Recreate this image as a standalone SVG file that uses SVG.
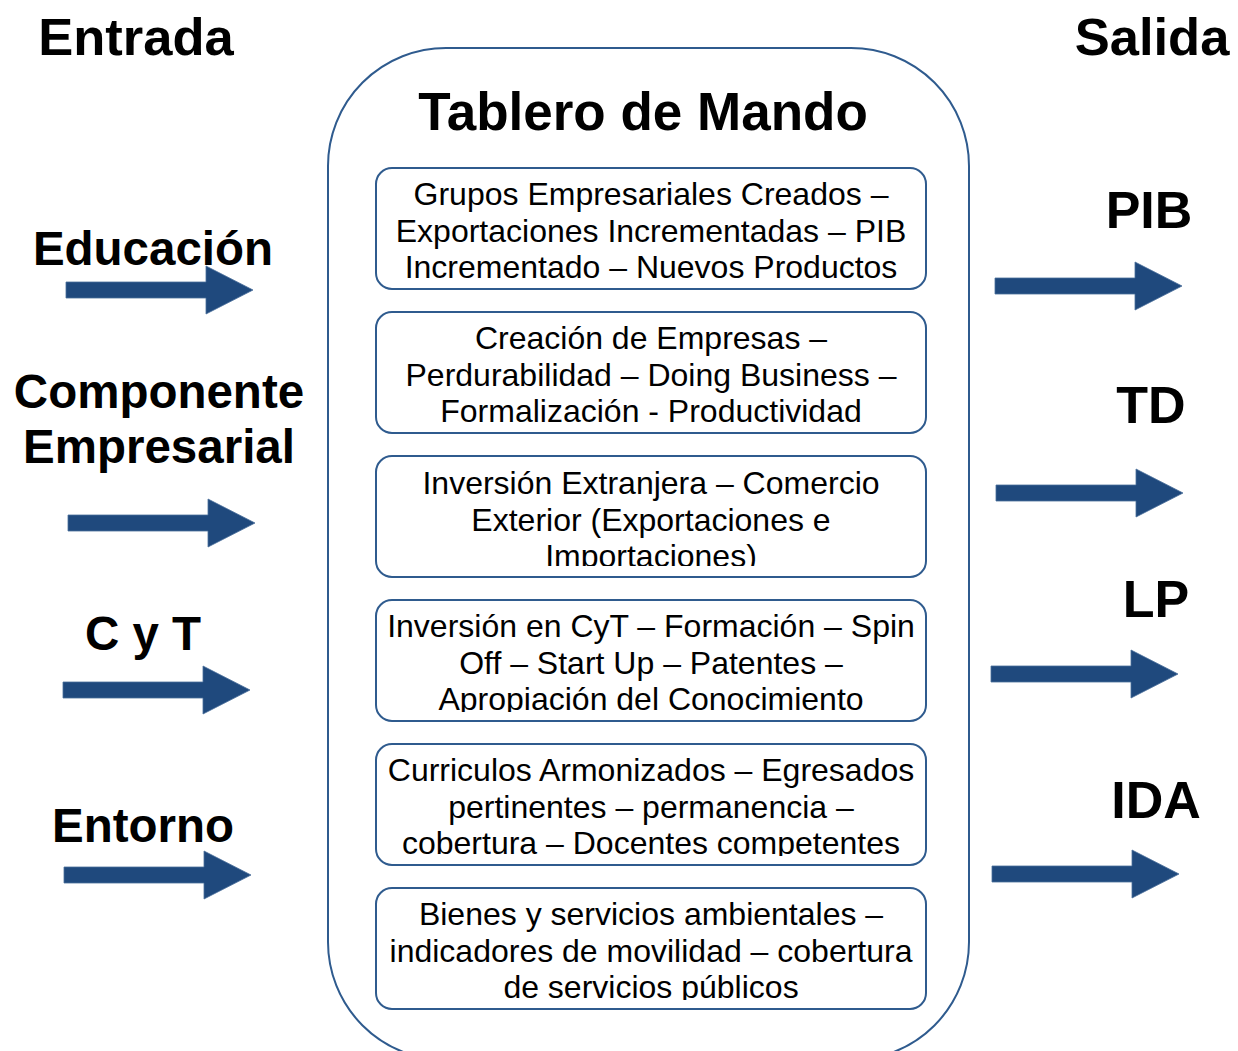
<svg xmlns="http://www.w3.org/2000/svg" width="1238" height="1051" viewBox="0 0 1238 1051">
<style>
.h{font-family:"Liberation Sans",Arial,sans-serif;font-weight:bold;fill:#000}
.t{font-family:"Liberation Sans",Arial,sans-serif;font-size:32px;fill:#000;text-anchor:middle}
.box{fill:#fff;stroke:#2F5B8E;stroke-width:2}
.arr{fill:#1F497D;stroke:#4A6E9A;stroke-width:0.8}
</style>
<defs>
<path id="arrow" d="M0,-8 H140 V-24 L187,0 L140,24 V8 H0 Z"/>
<clipPath id="c1"><rect x="376" y="168" width="550" height="112"/></clipPath>
<clipPath id="c2"><rect x="376" y="312" width="550" height="112"/></clipPath>
<clipPath id="c3"><rect x="376" y="456" width="550" height="110"/></clipPath>
<clipPath id="c4"><rect x="376" y="600" width="550" height="112"/></clipPath>
<clipPath id="c5"><rect x="376" y="744" width="550" height="112"/></clipPath>
<clipPath id="c6"><rect x="376" y="888" width="550" height="112"/></clipPath>
</defs>
<rect width="1238" height="1051" fill="#fff"/>

<text class="h" x="136" y="55" font-size="52.5" text-anchor="middle">Entrada</text>
<text class="h" x="1152" y="55" font-size="52.5" text-anchor="middle">Salida</text>

<g id="tablero">
<rect x="328" y="48" width="641" height="1012" rx="118" ry="118" fill="#fff" stroke="#2F5B8E" stroke-width="2"/>
<text class="h" x="643" y="130" font-size="53" text-anchor="middle">Tablero de Mando</text>
</g>

<g id="box1">
<rect class="box" x="376" y="168" width="550" height="121" rx="16"/>
<g clip-path="url(#c1)">
<text class="t" x="651" y="205">Grupos Empresariales Creados –</text>
<text class="t" x="651" y="242">Exportaciones Incrementadas – PIB</text>
<text class="t" x="651" y="278">Incrementado – Nuevos Productos</text>
</g>
</g>
<g id="box2">
<rect class="box" x="376" y="312" width="550" height="121" rx="16"/>
<g clip-path="url(#c2)">
<text class="t" x="651" y="349">Creación de Empresas –</text>
<text class="t" x="651" y="386">Perdurabilidad – Doing Business –</text>
<text class="t" x="651" y="422">Formalización - Productividad</text>
</g>
</g>
<g id="box3">
<rect class="box" x="376" y="456" width="550" height="121" rx="16"/>
<g clip-path="url(#c3)">
<text class="t" x="651" y="494">Inversión Extranjera – Comercio</text>
<text class="t" x="651" y="531">Exterior (Exportaciones e</text>
<text class="t" x="651" y="567">Importaciones)</text>
</g>
</g>
<g id="box4">
<rect class="box" x="376" y="600" width="550" height="121" rx="16"/>
<g clip-path="url(#c4)">
<text class="t" x="651" y="637">Inversión en CyT – Formación – Spin</text>
<text class="t" x="651" y="674">Off – Start Up – Patentes –</text>
<text class="t" x="651" y="710">Apropiación del Conocimiento</text>
</g>
</g>
<g id="box5">
<rect class="box" x="376" y="744" width="550" height="121" rx="16"/>
<g clip-path="url(#c5)">
<text class="t" x="651" y="781">Curriculos Armonizados – Egresados</text>
<text class="t" x="651" y="818">pertinentes – permanencia –</text>
<text class="t" x="651" y="854">cobertura – Docentes competentes</text>
</g>
</g>
<g id="box6">
<rect class="box" x="376" y="888" width="550" height="121" rx="16"/>
<g clip-path="url(#c6)">
<text class="t" x="651" y="925">Bienes y servicios ambientales –</text>
<text class="t" x="651" y="962">indicadores de movilidad – cobertura</text>
<text class="t" x="651" y="998">de servicios públicos</text>
</g>
</g>

<g id="in-educacion">
<text class="h" x="153" y="265" font-size="47.5" text-anchor="middle">Educación</text>
</g>
<g id="in-componente">
<text class="h" x="159" y="408" font-size="47.5" text-anchor="middle">Componente</text>
<text class="h" x="159" y="463" font-size="47.5" text-anchor="middle">Empresarial</text>
</g>
<g id="in-cyt">
<text class="h" x="143" y="650" font-size="47.5" text-anchor="middle">C y T</text>
</g>
<g id="in-entorno">
<text class="h" x="143" y="842" font-size="47.5" text-anchor="middle">Entorno</text>
</g>

<g id="out-pib"><text class="h" x="1149" y="228" font-size="52" text-anchor="middle">PIB</text></g>
<g id="out-td"><text class="h" x="1151" y="423" font-size="52" text-anchor="middle">TD</text></g>
<g id="out-lp"><text class="h" x="1156" y="617" font-size="52" text-anchor="middle">LP</text></g>
<g id="out-ida"><text class="h" x="1156" y="818" font-size="52" text-anchor="middle">IDA</text></g>

<g id="connectors">
<use href="#arrow" class="arr" transform="translate(66,290)"/>
<use href="#arrow" class="arr" transform="translate(68,523)"/>
<use href="#arrow" class="arr" transform="translate(63,690)"/>
<use href="#arrow" class="arr" transform="translate(64,875)"/>
<use href="#arrow" class="arr" transform="translate(995,286)"/>
<use href="#arrow" class="arr" transform="translate(996,493)"/>
<use href="#arrow" class="arr" transform="translate(991,674)"/>
<use href="#arrow" class="arr" transform="translate(992,874)"/>
</g>
</svg>
